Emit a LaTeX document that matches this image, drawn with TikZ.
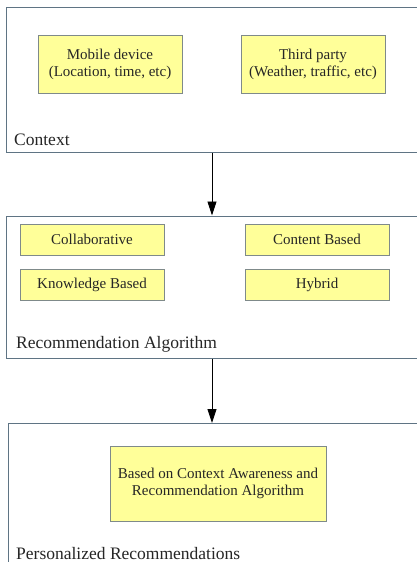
\documentclass[tikz,border=0pt]{standalone}
\usepackage{fontspec}
\setmainfont{Liberation Serif}
\usetikzlibrary{arrows.meta}
\definecolor{frame}{HTML}{5F7484}
\definecolor{ybox}{HTML}{FFFF99}
\definecolor{yedge}{HTML}{7F8A8A}
\begin{document}
\begin{tikzpicture}[x=1pt,y=-1pt,
  outer/.style={draw=frame,line width=0.9pt,fill=white,rectangle,inner sep=0pt,anchor=north west},
  item/.style={draw=yedge,line width=0.9pt,fill=ybox,rectangle,inner sep=0pt,align=center,
    font=\fontsize{15}{17}\selectfont,text=black!85},
  lbl/.style={anchor=base west,inner sep=0pt,font=\fontsize{17.5}{20}\selectfont,text=black!85},
  arr/.style={-{Triangle[length=14pt,width=9pt]},line width=0.9pt,black}]
\useasboundingbox (0,0) rectangle (417,562);
\clip (0,0) rectangle (417,562);
% outer boxes
\node[outer,minimum width=424pt,minimum height=145pt] (ctx) at (6,7) {};
\node[outer,minimum width=424pt,minimum height=142.5pt] (alg) at (6,215.5) {};
\node[outer,minimum width=422pt,minimum height=160pt] (pers) at (8,423) {};
\coordinate (mid) at (212,0);
% context
\node[item,minimum width=144pt,minimum height=58pt] (mob) at (110,64) {Mobile device\\(Location, time, etc)};
\node[item,minimum width=144pt,minimum height=58pt] (third) at (313,64) {Third party\\(Weather, traffic, etc)};
\node[lbl] (ctxl) at (14,145) {Context};
% algorithm
\node[item,minimum width=144pt,minimum height=31pt] (col) at (92,239.5) {Collaborative};
\node[item,minimum width=144pt,minimum height=31pt] (con) at (317,239.5) {Content Based};
\node[item,minimum width=144pt,minimum height=31pt] (kno) at (92,285) {Knowledge Based};
\node[item,minimum width=144pt,minimum height=31pt] (hyb) at (317,285) {Hybrid};
\node[lbl] (algl) at (16,348) {Recommendation Algorithm};
% personalized
\node[item,minimum width=216pt,minimum height=75pt] (based) at (218,483.5) {Based on Context Awareness and\\Recommendation Algorithm};
\node[lbl] (persl) at (16,559) {Personalized Recommendations};
% arrows
\draw[arr] (ctx.south -| mid) -- (alg.north -| mid);
\draw[arr] (alg.south -| mid) -- (pers.north -| mid);
\end{tikzpicture}
\end{document}
